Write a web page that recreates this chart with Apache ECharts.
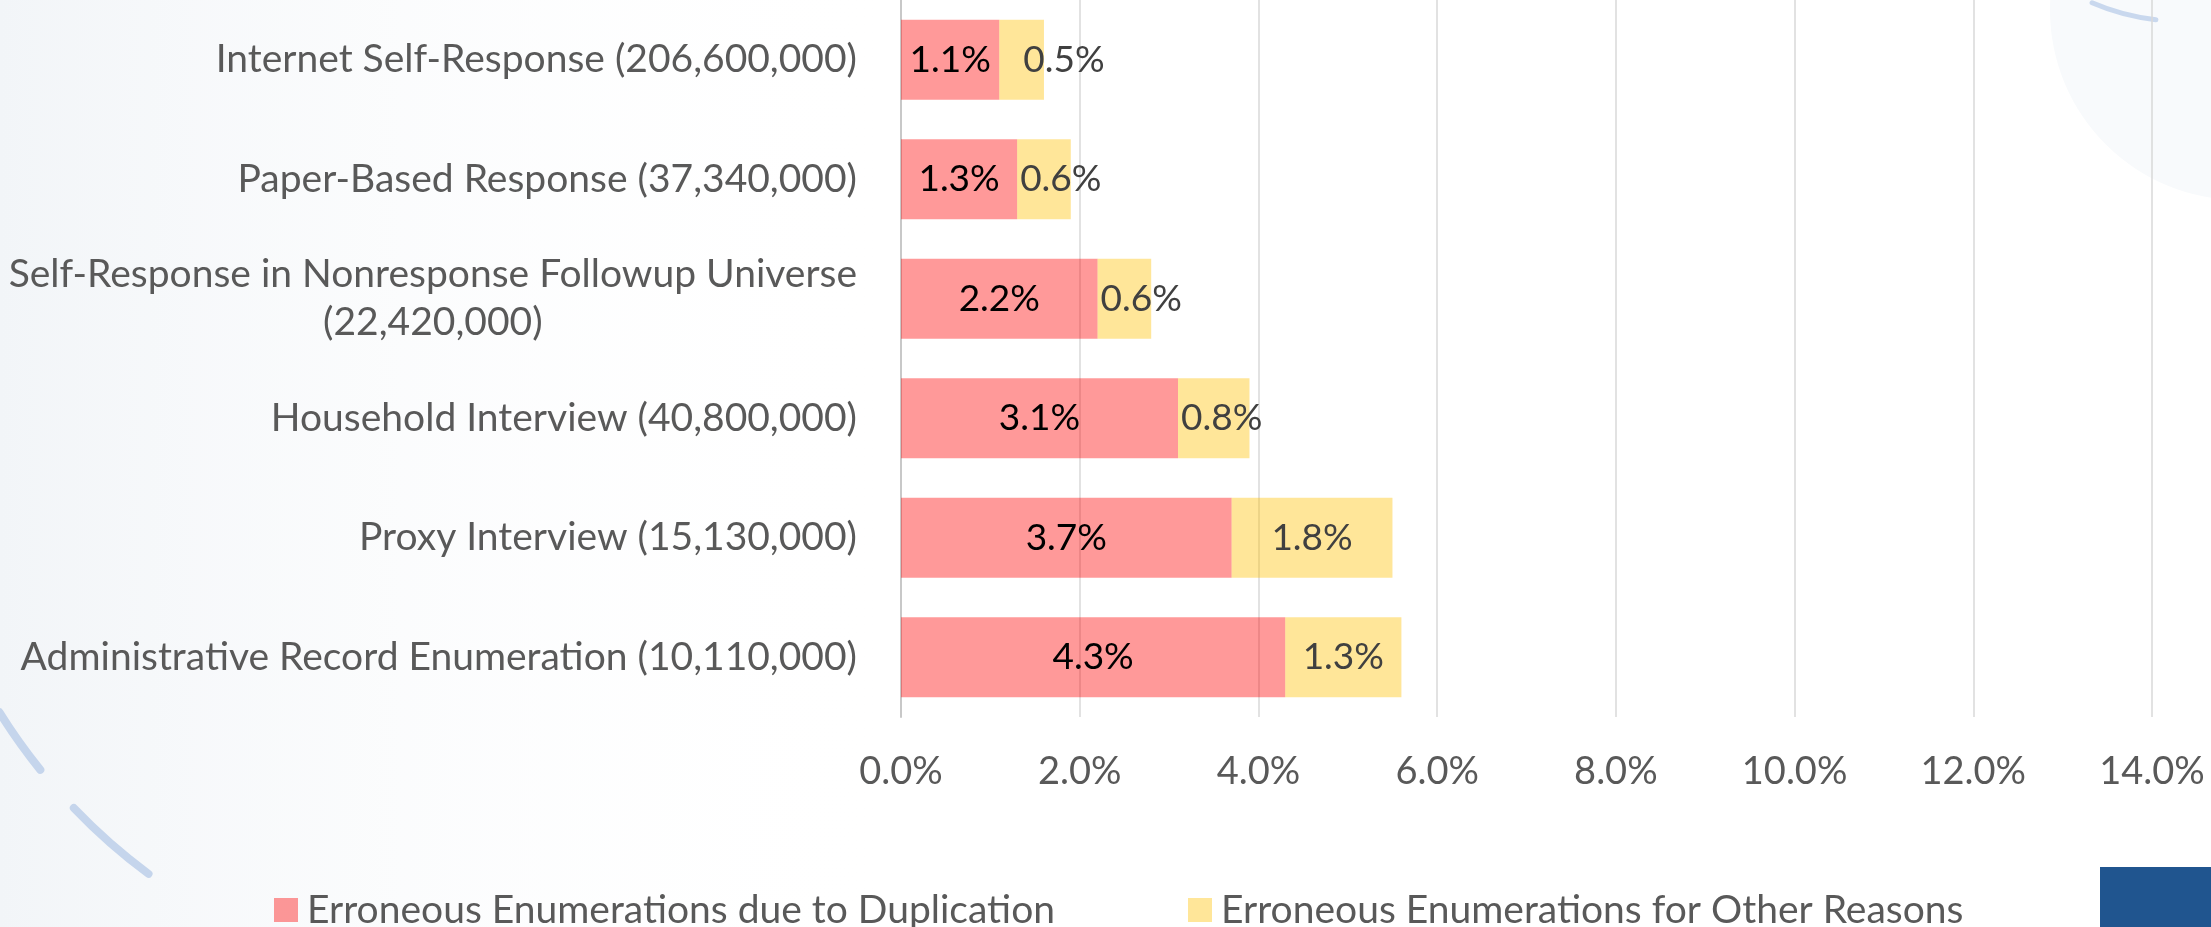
<!DOCTYPE html>
<html>
<head>
<meta charset="utf-8">
<title>Erroneous Enumerations by Response Mode</title>
<script src="https://cdn.jsdelivr.net/npm/echarts@6/dist/echarts.min.js"></script>
<style>
  html, body { margin: 0; padding: 0; background: #fff; }
  #chart { width: 2211px; height: 927px; }
</style>
</head>
<body>
<div id="chart"></div>
<script>
// categories, top to bottom
const categories = [
  'Internet Self-Response (206,600,000)',
  'Paper-Based Response (37,340,000)',
  'Self-Response in Nonresponse Followup Universe\n(22,420,000)',
  'Household Interview (40,800,000)',
  'Proxy Interview (15,130,000)',
  'Administrative Record Enumeration (10,110,000)'
]
const seriesNames = [
  'Erroneous Enumerations due to Duplication',
  'Erroneous Enumerations for Other Reasons'
]
// values in percent
const duplication = [1.1, 1.3, 2.2, 3.1, 3.7, 4.3]
const otherReasons = [0.5, 0.6, 0.6, 0.8, 1.8, 1.3]
const xTicks = { min: 0, max: 14, step: 2 }

const font = 'Lato, "Open Sans", sans-serif'
const grey = '#595959'
const pxPerPct = 1251 / 14   // plot width / axis range
const labelWidth = 84        // approx width of a "0.0%" label

const chart = echarts.init(document.getElementById('chart'))

const pct = function(v) { return Number(v).toFixed(1) + '%' }

// narrow segments get their label pushed to the left edge like Excel does;
// the first one is nudged further to clear the red label beside it
const otherData = otherReasons.map(function(v, i) {
  if (v * pxPerPct >= labelWidth) return v
  return {
    value: v,
    label: { position: 'insideLeft', distance: i === 0 ? 24 : 3 }
  }
})

chart.setOption({
  backgroundColor: '#ffffff',
  textStyle: { fontFamily: font },
  graphic: [
    {
      type: 'rect', z: -10, silent: true,
      shape: { x: 0, y: 0, width: 900, height: 927 },
      style: {
        fill: new echarts.graphic.LinearGradient(0, 0, 1, 0, [
          { offset: 0, color: '#f2f5f8' },
          { offset: 1, color: 'rgba(255,255,255,0)' }
        ])
      }
    },
    {
      type: 'circle', z: -9, silent: true,
      shape: { cx: 2240, cy: 10, r: 190 },
      style: { fill: '#f8fafc' }
    },
    {
      type: 'arc', z: -8, silent: true,
      shape: { cx: 500, cy: 400, r: 590, startAngle: 2.464, endAngle: 2.584 },
      style: { stroke: '#c5d5ec', lineWidth: 8, lineCap: 'round', fill: null }
    },
    {
      type: 'arc', z: -8, silent: true,
      shape: { cx: 500, cy: 400, r: 590, startAngle: 2.209, endAngle: 2.378 },
      style: { stroke: '#c5d5ec', lineWidth: 8, lineCap: 'round', fill: null }
    },
    {
      type: 'arc', z: -8, silent: true,
      shape: { cx: 2180, cy: -200, r: 221, startAngle: 1.68, endAngle: 1.98 },
      style: { stroke: '#c9d8ee', lineWidth: 5, lineCap: 'round', fill: null }
    },
    {
      type: 'rect', z: 10, silent: true,
      shape: { x: 2100, y: 867, width: 111, height: 60 },
      style: { fill: '#20558f' }
    }
  ],
  legend: [
    {
      data: [seriesNames[0]],
      left: 269, top: 883,
      itemWidth: 24, itemHeight: 24,
      icon: 'rect',
      textStyle: { fontFamily: font, fontSize: 39, color: grey, lineHeight: 44, padding: [0, 0, 0, 4] }
    },
    {
      data: [seriesNames[1]],
      left: 1183, top: 883,
      itemWidth: 24, itemHeight: 24,
      icon: 'rect',
      textStyle: { fontFamily: font, fontSize: 39, color: grey, lineHeight: 44, padding: [0, 0, 0, 4] }
    }
  ],
  grid: { left: 901, right: 59, top: 0, height: 717, containLabel: false },
  xAxis: {
    type: 'value',
    min: xTicks.min,
    max: xTicks.max,
    interval: xTicks.step,
    axisLine: { show: false },
    axisTick: { show: false },
    splitLine: { show: true, lineStyle: { color: '#d9d9d9', width: 1.5 } },
    axisLabel: {
      formatter: pct,
      fontFamily: font,
      fontSize: 38,
      lineHeight: 40,
      color: grey,
      margin: 35
    }
  },
  yAxis: {
    type: 'category',
    inverse: true,
    data: categories,
    axisTick: { show: false },
    axisLine: { show: true, lineStyle: { color: '#c8c8c8', width: 2 } },
    axisLabel: {
      margin: 44,
      color: grey,
      fontFamily: font,
      fontSize: 39,
      formatter: function(v) {
        return v.split('\n').map(function(s) { return '{c|' + s + '}' }).join('\n')
      },
      rich: {
        c: { align: 'center', fontFamily: font, fontSize: 39, color: grey, lineHeight: 48 }
      }
    }
  },
  series: [
    {
      name: seriesNames[0],
      type: 'bar',
      stack: 'total',
      barWidth: 80,
      data: duplication,
      itemStyle: { color: 'rgba(255,0,0,0.4)' },
      label: {
        show: true,
        position: 'inside',
        formatter: function(p) { return pct(p.value) },
        fontFamily: font,
        fontSize: 37,
        color: '#000000'
      }
    },
    {
      name: seriesNames[1],
      type: 'bar',
      stack: 'total',
      barWidth: 80,
      data: otherData,
      itemStyle: { color: 'rgba(255,192,0,0.4)' },
      label: {
        show: true,
        position: 'inside',
        formatter: function(p) { return pct(p.value) },
        fontFamily: font,
        fontSize: 37,
        color: '#404040'
      }
    }
  ]
})
</script>
</body>
</html>
